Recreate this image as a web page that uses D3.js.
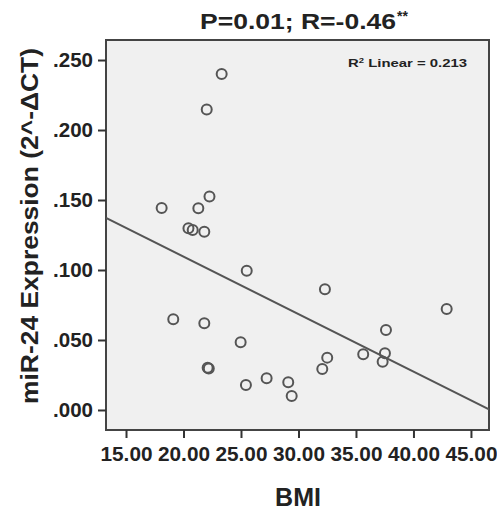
<!DOCTYPE html>
<html>
<head>
<meta charset="utf-8">
<script src="https://cdn.jsdelivr.net/npm/d3@7"></script>
<style>
  body { margin: 0; background: #fff; }
  text { font-family: "Liberation Sans", Arial, sans-serif; fill: #222; }
</style>
</head>
<body>
<script>
// BMI vs miR-24 expression
const bmi = [23.32, 22.02, 22.26, 21.29, 18.10, 20.43, 20.80, 21.81, 25.50, 19.11,
  21.81, 24.97, 22.10, 22.20, 25.43, 27.23, 29.11, 29.41, 32.30, 42.89,
  37.61, 32.50, 32.07, 35.63, 37.52, 37.32]
const expression = [0.240, 0.2146, 0.1525, 0.1441, 0.1443, 0.1298, 0.1286, 0.1274, 0.0995, 0.0648,
  0.0619, 0.0484, 0.0302, 0.0297, 0.0179, 0.0226, 0.0198, 0.0100, 0.0862, 0.0721,
  0.0571, 0.0374, 0.0293, 0.0398, 0.0405, 0.0345]

const xTicks = [15, 20, 25, 30, 35, 40, 45]
const yTicks = [0, 0.05, 0.1, 0.15, 0.2, 0.25]

// fit line as drawn
const fitIntercept = 0.1917
const fitSlope = -0.004107

const d3 = window.d3

const margin = { top: 40, right: 8, bottom: 83, left: 106 }
const width = 497 - margin.left - margin.right
const height = 513 - margin.top - margin.bottom

const xScale = d3.scaleLinear().domain([13.26, 46.57]).range([0, width])
const yScale = d3.scaleLinear().domain([-0.0143, 0.2643]).range([height, 0])

const svg = d3.select('body')
  .append('svg')
  .attr('width', 497)
  .attr('height', 513)

const g = svg.append('g')
  .attr('transform', 'translate(' + margin.left + ',' + margin.top + ')')

g.append('rect')
  .attr('width', width)
  .attr('height', height)
  .attr('fill', '#f0f0f0')
  .attr('stroke', '#444')
  .attr('stroke-width', 2)

const xAxis = g.append('g')
  .attr('transform', 'translate(0,' + height + ')')
  .call(d3.axisBottom(xScale).tickValues(xTicks).tickFormat(d3.format('.2f')).tickSize(8).tickSizeOuter(0))

const yAxis = g.append('g')
  .call(d3.axisLeft(yScale).tickValues(yTicks).tickFormat((d) => d3.format('.3f')(d).replace(/^0/, '')).tickSize(8).tickSizeOuter(0))

for (const ax of [xAxis, yAxis]) {
  ax.select('.domain').remove()
  ax.selectAll('line').attr('stroke', '#333').attr('stroke-width', 2)
  ax.selectAll('text')
    .style('font-size', '20px')
    .style('font-weight', 'bold')
    .attr('fill', '#222')
}
xAxis.selectAll('text').attr('dy', '1.0em').attr('textLength', 52).attr('lengthAdjust', 'spacingAndGlyphs')
yAxis.selectAll('text').attr('x', -13).attr('textLength', 40).attr('lengthAdjust', 'spacingAndGlyphs')

const clip = g.append('clipPath').attr('id', 'plot-clip')
clip.append('rect').attr('width', width).attr('height', height)

g.append('line')
  .attr('clip-path', 'url(#plot-clip)')
  .attr('x1', xScale(xScale.domain()[0]))
  .attr('y1', yScale(fitIntercept + fitSlope * xScale.domain()[0]))
  .attr('x2', xScale(xScale.domain()[1]))
  .attr('y2', yScale(fitIntercept + fitSlope * xScale.domain()[1]))
  .attr('stroke', '#555')
  .attr('stroke-width', 2)

g.selectAll('.dot')
  .data(bmi)
  .enter()
  .append('circle')
  .attr('class', 'dot')
  .attr('cx', (d) => xScale(d))
  .attr('cy', (d, i) => yScale(expression[i]))
  .attr('r', 5)
  .attr('fill', 'none')
  .attr('stroke', '#555')
  .attr('stroke-width', 2)

g.append('text')
  .attr('x', 242)
  .attr('y', 27)
  .attr('textLength', 119)
  .attr('lengthAdjust', 'spacingAndGlyphs')
  .style('font-size', '11px')
  .style('font-weight', 'bold')
  .attr('fill', '#444')
  .html('R<tspan dy="-4" font-size="7px">2</tspan><tspan dy="4"> Linear = 0.213</tspan>')

svg.append('text')
  .attr('x', 200)
  .attr('y', 29)
  .attr('textLength', 196)
  .attr('lengthAdjust', 'spacingAndGlyphs')
  .style('font-size', '22px')
  .style('font-weight', 'bold')
  .text('P=0.01; R=-0.46')
svg.append('text')
  .attr('x', 397)
  .attr('y', 21)
  .style('font-size', '14px')
  .style('font-weight', 'bold')
  .text('**')

svg.append('text')
  .attr('x', 298)
  .attr('y', 506)
  .style('text-anchor', 'middle')
  .style('font-size', '25px')
  .style('font-weight', 'bold')
  .text('BMI')

svg.append('text')
  .attr('transform', 'translate(38,' + (margin.top + 186) + ') rotate(-90)')
  .style('text-anchor', 'middle')
  .attr('textLength', 356)
  .attr('lengthAdjust', 'spacingAndGlyphs')
  .style('font-size', '23px')
  .style('font-weight', 'bold')
  .text('miR-24 Expression (2^-ΔCT)')
</script>
</body>
</html>
